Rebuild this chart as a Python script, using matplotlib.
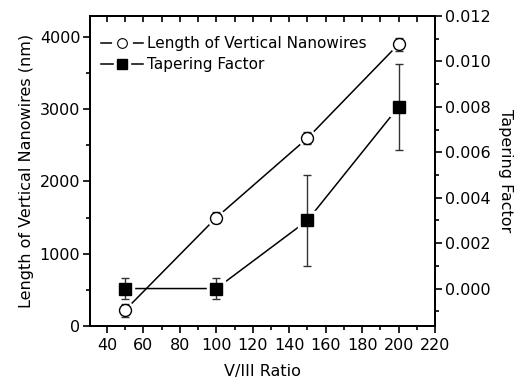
import matplotlib
matplotlib.use("Agg")
import matplotlib.pyplot as plt
from matplotlib.lines import Line2D
from matplotlib.ticker import MultipleLocator, FormatStrFormatter
from matplotlib.legend_handler import HandlerTuple

plt.rcParams['font.family'] = ['DejaVu Sans']

ratio = [50, 100, 150, 200]
length_nm = [220, 1500, 2600, 3900]
length_err = [90, 80, 80, 90]
taper = [0.0, 0.0, 0.003, 0.008]
taper_err = [0.00046, 0.00046, 0.002, 0.0019]

fig = plt.figure(figsize=(5.21, 3.85), dpi=100)
ax = fig.add_axes([0.1727, 0.1532, 0.835 - 0.1727, 0.9584 - 0.1532])
ax2 = ax.twinx()

lw_sp = 1.4
for a in (ax, ax2):
    for s in a.spines.values():
        s.set_linewidth(lw_sp)

# Length series (left axis)
ax.plot(ratio, length_nm, color='black', lw=1.1, zorder=1)
ax.plot(ratio, length_nm, ls='none', marker='o', ms=12.5, mfc='white', mec='white', zorder=2)
ax.errorbar(ratio, length_nm, yerr=length_err, fmt='none', ecolor='#333333', elinewidth=1.0,
            capsize=3, capthick=1.0, zorder=3)
ax.plot(ratio, length_nm, ls='none', marker='o', ms=8.6, mfc='white', mec='black', mew=1.0, zorder=4)

# Tapering series (right axis)
ax2.plot(ratio, taper, color='black', lw=1.1, zorder=1)
ax2.plot(ratio, taper, ls='none', marker='s', ms=13, mfc='white', mec='white', zorder=2)
ax2.errorbar(ratio, taper, yerr=taper_err, fmt='none', ecolor='#333333', elinewidth=1.0,
             capsize=3, capthick=1.0, zorder=3)
ax2.plot(ratio, taper, ls='none', marker='s', ms=9, mfc='black', mec='black', zorder=4)

ax.set_xlim(30.7, 220)
ax.set_ylim(0, 4290)
ax2.set_ylim(-0.00165, 0.012)

ax.xaxis.set_major_locator(MultipleLocator(20))
ax.xaxis.set_minor_locator(MultipleLocator(10))
ax.yaxis.set_major_locator(MultipleLocator(1000))
ax.yaxis.set_minor_locator(MultipleLocator(500))
ax2.yaxis.set_major_locator(MultipleLocator(0.002))
ax2.yaxis.set_minor_locator(MultipleLocator(0.001))
ax2.yaxis.set_major_formatter(FormatStrFormatter('%.3f'))

fs = 11.5
ax.tick_params(axis='x', which='both', direction='out', bottom=True, top=False, labelsize=fs, width=1.2)
ax.tick_params(axis='x', which='major', length=5)
ax.tick_params(axis='x', which='minor', length=3)
ax.tick_params(axis='y', which='both', direction='out', labelsize=fs, width=1.2, pad=2)
ax.tick_params(axis='y', which='major', length=5)
ax.tick_params(axis='y', which='minor', length=3)
ax2.tick_params(axis='y', which='both', direction='out', labelsize=fs, width=1.2, pad=2)
ax2.tick_params(axis='y', which='major', length=5)
ax2.tick_params(axis='y', which='minor', length=3)

# top ticks, inward
axt = ax.secondary_xaxis('top')
axt.xaxis.set_major_locator(MultipleLocator(10))
axt.tick_params(axis='x', direction='in', length=4, width=1.2, labeltop=False)
axt.spines['top'].set_linewidth(lw_sp)

ax.set_xlabel('V/III Ratio', fontsize=fs, labelpad=8)
ax.set_ylabel('Length of Vertical Nanowires (nm)', fontsize=fs, labelpad=4)
ax2.set_ylabel('Tapering Factor', fontsize=fs, rotation=270, labelpad=16)

h1 = (Line2D([], [], color='black', lw=1.1),
      Line2D([], [], ls='none', marker='o', ms=14, mfc='white', mec='white'),
      Line2D([], [], ls='none', marker='o', ms=7, mfc='white', mec='black', mew=0.8))
h2 = (Line2D([], [], color='black', lw=1.1),
      Line2D([], [], ls='none', marker='s', ms=12, mfc='white', mec='white'),
      Line2D([], [], ls='none', marker='s', ms=6.5, mfc='black', mec='black'))
leg = ax.legend([h1, h2], ['Length of Vertical Nanowires', 'Tapering Factor'],
                handler_map={tuple: HandlerTuple(ndivide=1, pad=0)},
                loc='upper left', bbox_to_anchor=(0.0, 0.97), frameon=False, fontsize=11,
                handlelength=2.8, handletextpad=0.2, labelspacing=0.4, borderaxespad=0.3)
leg.set_zorder(10)

fig.savefig('out.png', dpi=100)
